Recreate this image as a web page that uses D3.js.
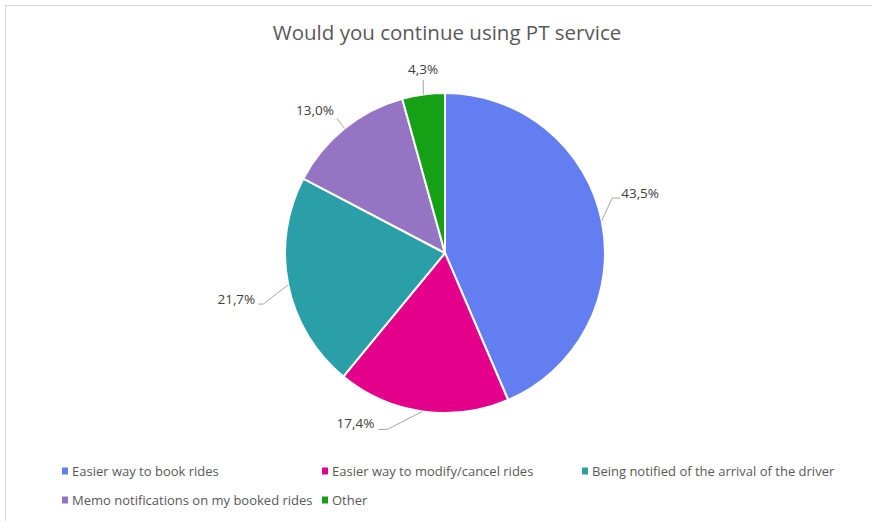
<!DOCTYPE html>
<html>
<head>
<meta charset="utf-8">
<script src="https://cdn.jsdelivr.net/npm/d3@7"></script>
<style>
  html, body { margin: 0; padding: 0; background: #fff; }
  svg { display: block; }
  text { font-family: "Open Sans", "Noto Sans", sans-serif; }
</style>
</head>
<body>
<svg id="chart" width="872" height="521"></svg>
<script>
const title = "Would you continue using PT service";
const categories = [
  "Easier way to book rides",
  "Easier way to modify/cancel rides",
  "Being notified of the arrival of the driver",
  "Memo notifications on my booked rides",
  "Other"
];
const values = [43.5, 17.4, 21.7, 13.0, 4.3];
const colors = ["#637EF0", "#E5008B", "#2B9FA7", "#9574C3", "#16A016"];

// label leader layout (elbow polar position in degrees / radius factor, text offsets)
const labelLayout = [
  { a: 71.8, rf: 1.10, hx: 8, tx: 9, ty: 0, anchor: "start" },
  { a: 198.1, rf: 1.16, hx: -9, tx: -13, ty: -1, anchor: "end" },
  { a: 254.3, rf: 1.18, hx: -5, tx: -8, ty: 0, anchor: "end" },
  { a: 321.3, rf: 1.08, hx: 0, tx: -22, ty: -3, anchor: "middle" },
  { a: 352.8, rf: 1.09, hx: 0, tx: 0, ty: -6, anchor: "middle" }
];

const svg = d3.select("#chart");
const W = 872, H = 521;

// frame
svg.append("rect").attr("x", 5.5).attr("y", 5.5).attr("width", W).attr("height", H)
  .attr("fill", "#fff").attr("stroke", "#d9d9d9").attr("stroke-width", 1);

svg.append("text").attr("x", 447).attr("y", 40).attr("text-anchor", "middle")
  .attr("font-size", 20.5).attr("fill", "#595959").text(title);

const cx = 445, cy = 253, R = 160;
const g = svg.append("g").attr("transform", `translate(${cx},${cy})`);
const pie = d3.pie().sort(null).value(d => d)(values);
const arc = d3.arc().innerRadius(0).outerRadius(R);

g.selectAll("path.slice").data(pie).join("path")
  .attr("class", "slice")
  .attr("d", arc)
  .attr("fill", (d, i) => colors[i])
  .attr("stroke", "#fff").attr("stroke-width", 2).attr("stroke-linejoin", "round");

const fmt = v => v.toFixed(1).replace(".", ",") + "%";
const polar = (ang, r) => [r * Math.sin(ang), -r * Math.cos(ang)];

pie.forEach((d, i) => {
  const L = labelLayout[i];
  const mid = (d.startAngle + d.endAngle) / 2;
  const p0 = polar(mid, R);
  const e = polar(L.a * Math.PI / 180, R * L.rf);
  const pts = [p0, e];
  if (L.hx) pts.push([e[0] + L.hx, e[1]]);
  g.append("path").attr("d", d3.line()(pts))
    .attr("fill", "none").attr("stroke", "#a6a6a6").attr("stroke-width", 1);
  g.append("text").attr("x", e[0] + L.tx).attr("y", e[1] + L.ty)
    .attr("text-anchor", L.anchor).attr("font-size", 13.5).attr("fill", "#404040")
    .text(fmt(values[i]));
});

// legend: 3 columns
const lg = svg.append("g");
const colW = 260, rowH = 29, lx0 = 62, ly0 = 471;
categories.forEach((c, i) => {
  const col = i % 3, row = Math.floor(i / 3);
  const x = lx0 + col * colW, y = ly0 + row * rowH;
  lg.append("rect").attr("x", x).attr("y", y - 3.5).attr("width", 6).attr("height", 7)
    .attr("fill", colors[i]);
  lg.append("text").attr("x", x + 10).attr("y", y + 4.5)
    .attr("font-size", 13).attr("fill", "#595959").text(c);
});
</script>
</body>
</html>
